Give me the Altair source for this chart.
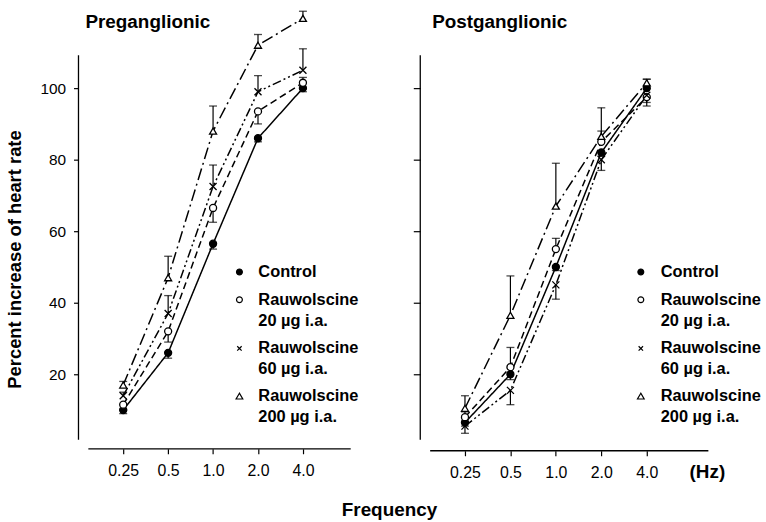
import altair as alt
import pandas as pd

# ---- data ----
freq = [0.25, 0.5, 1.0, 2.0, 4.0]
groups = ["Control", "Rauwolscine 20 µg i.a.", "Rauwolscine 60 µg i.a.", "Rauwolscine 200 µg i.a."]

pre_control = [10, 26, 56.5, 86, 100]
pre_control_err = [-1, -1.5, -1.5, -1, -1]
pre_r20 = [11.5, 32, 66.5, 93.5, 101.5]
pre_r20_err = [-1.5, -3, -4, -3.5, 1.5]
pre_r60 = [14, 37, 72.5, 99, 105]
pre_r60_err = [1, 5, 6, 4.5, 6]
pre_r200 = [17, 47, 88, 112, 119.5]
pre_r200_err = [1, 6, 7, 3, 2]

post_control = [6.5, 20, 50, 82, 100]
post_control_err = [-1, -1.5, -1, -1, 2.5]
post_r20 = [8, 22, 55, 85, 97.5]
post_r20_err = [1.5, 5.5, 3, 3, -2.5]
post_r60 = [5.5, 15.5, 45, 80, 98]
post_r60_err = [-2, -4, -4, -3, -2]
post_r200 = [10.5, 36.5, 67, 86.5, 101.5]
post_r200_err = [3.5, 11, 12, 8, 1]

legend_lines = [
    ("Control", None),
    ("Rauwolscine", "20 µg  i.a."),
    ("Rauwolscine", "60 µg  i.a."),
    ("Rauwolscine", "200 µg  i.a."),
]

FONT = "Liberation Sans"
Y_DOMAIN = [1.67, 121.67]
Y_AXIS_TOP = 109.2
H = 432
X_PATH = "M-1,-1L1,1M-1,1L1,-1"
dash_range = [[1, 0], [7, 4], [9, 3, 2, 3, 2, 3], [12, 4, 2, 4]]
shape_range = ["circle", "circle", X_PATH, "triangle-up"]
fill_range = ["black", "white", "black", "white"]
size_range = [50, 50, 28, 65]
legend_y = [263, 291, 312, 340, 361, 388, 409]


def panel(values, errs, width, xdom, x_start, xoff, show_y, title, title_dx,
          sym_x, txt_x, hz=False):
    rows = []
    for g, vals, es in zip(groups, values, errs):
        for f, v, e in zip(freq, vals, es):
            rows.append({"freq": f, "pct": v, "end": v + e, "group": g})
    df = pd.DataFrame(rows)

    xs = alt.Scale(type="log", base=2, domain=xdom, nice=False, zero=False)
    ys = alt.Scale(domain=Y_DOMAIN, nice=False, zero=False)
    xaxis = alt.Axis(values=freq, labelExpr="datum.value < 0.3 ? '0.25' : format(datum.value, '.1f')",
                     offset=xoff, domain=False, tickSize=5, tickWidth=1.2, labelFontSize=16,
                     labelPadding=9, title=None, grid=False)
    if show_y:
        yaxis = alt.Axis(values=[20, 40, 60, 80, 100], tickSize=5, tickWidth=1.2, labelPadding=8,
                         labelFontSize=15.5, title="Percent increase of heart rate", titleFontSize=18.5,
                         titleFontWeight="bold", titlePadding=15, titleY=250, grid=False,
                         domain=False)
    else:
        yaxis = alt.Axis(values=[20, 40, 60, 80, 100], tickSize=7, tickWidth=1.2, labels=False,
                         title=None, grid=False, domain=False)

    X = alt.X("freq:Q", scale=xs, axis=xaxis)
    Y = alt.Y("pct:Q", scale=ys, axis=yaxis)
    base = alt.Chart(df)

    lines = base.mark_line(color="black", strokeWidth=1.5).encode(
        x=X, y=Y,
        strokeDash=alt.StrokeDash("group:N", scale=alt.Scale(domain=groups, range=dash_range), legend=None),
        detail="group:N",
    )
    err = base.mark_rule(color="black", strokeWidth=1.2).encode(x=X, y=Y, y2="end:Q")
    caps = base.mark_tick(color="black", orient="horizontal", size=8, thickness=1.3).encode(
        x=X, y=alt.Y("end:Q", scale=ys, axis=yaxis))
    pts = base.mark_point(filled=True, stroke="black", strokeWidth=1.3, opacity=1).encode(
        x=X, y=Y,
        shape=alt.Shape("group:N", scale=alt.Scale(domain=groups, range=shape_range), legend=None),
        fill=alt.Fill("group:N", scale=alt.Scale(domain=groups, range=fill_range), legend=None),
        size=alt.Size("group:N", scale=alt.Scale(domain=groups, range=size_range), legend=None),
    )
    xdom_line = alt.Chart(pd.DataFrame({"freq": [x_start], "freq_end": [xdom[1]]})).mark_rule(
        color="black", strokeWidth=1.3).encode(x=X, x2="freq_end:Q", y=alt.value(H + xoff))
    ydom_line = alt.Chart(pd.DataFrame({"pct": [Y_DOMAIN[0]], "pct_end": [Y_AXIS_TOP]})).mark_rule(
        color="black", strokeWidth=1.3).encode(x=alt.value(0), y=Y, y2="pct_end:Q")

    layers = [xdom_line, ydom_line, lines, err, caps, pts]

    one = pd.DataFrame({"a": [0]})
    layers.append(alt.Chart(one).mark_text(
        align="left", baseline="alphabetic", font=FONT, fontWeight="bold", fontSize=19,
        color="black").encode(x=alt.value(title_dx), y=alt.value(17), text=alt.value(title)))
    # legend
    sym_rows = [0, 1, 3, 5]
    for i, (l1, l2) in enumerate(legend_lines):
        yy = legend_y[sym_rows[i]]
        layers.append(alt.Chart(one).mark_point(
            shape=shape_range[i], filled=True, fill=fill_range[i], stroke="black", strokeWidth=1.2,
            size=size_range[i] * 0.7, opacity=1).encode(x=alt.value(sym_x), y=alt.value(yy)))
        layers.append(alt.Chart(one).mark_text(
            align="left", baseline="middle", font=FONT, fontWeight="bold", fontSize=16.5,
            color="black").encode(x=alt.value(txt_x), y=alt.value(yy), text=alt.value(l1)))
        if l2:
            layers.append(alt.Chart(one).mark_text(
                align="left", baseline="middle", font=FONT, fontWeight="bold", fontSize=16.5,
                color="black").encode(x=alt.value(txt_x), y=alt.value(legend_y[sym_rows[i] + 1]),
                                      text=alt.value(l2)))
    if hz:
        layers.append(alt.Chart(one).mark_text(
            align="center", baseline="middle", font=FONT, fontSize=19, fontWeight="bold",
            color="black").encode(
            x=alt.value(width - 1), y=alt.value(H + xoff + 21), text=alt.value("(Hz)")))

    return alt.layer(*layers).properties(width=width, height=H)


left = panel([pre_control, pre_r20, pre_r60, pre_r200],
             [pre_control_err, pre_r20_err, pre_r60_err, pre_r200_err],
             274, [0.1254, 8.36], 0.146, 9, True, "Preganglionic", 7, 162, 181)
right = panel([post_control, post_r20, post_r60, post_r200],
              [post_control_err, post_r20_err, post_r60_err, post_r200_err],
              290, [0.1264, 10.24], 0.147, 11, False, "Postganglionic", 12, 222, 242, hz=True)

chart = alt.hconcat(left, right, spacing=54).properties(
    title=alt.TitleParams("Frequency", orient="bottom", anchor="middle", dx=6, offset=20,
                          fontSize=19, font=FONT, fontWeight="bold", color="black"),
    padding={"left": 6, "top": 8, "right": 5, "bottom": 2},
).configure_view(stroke=None).configure_axis(
    labelFont=FONT, titleFont=FONT, labelColor="black", titleColor="black",
    domainColor="black", tickColor="black",
)

chart.save("out.html", embed_options={"renderer": "svg", "actions": False})
